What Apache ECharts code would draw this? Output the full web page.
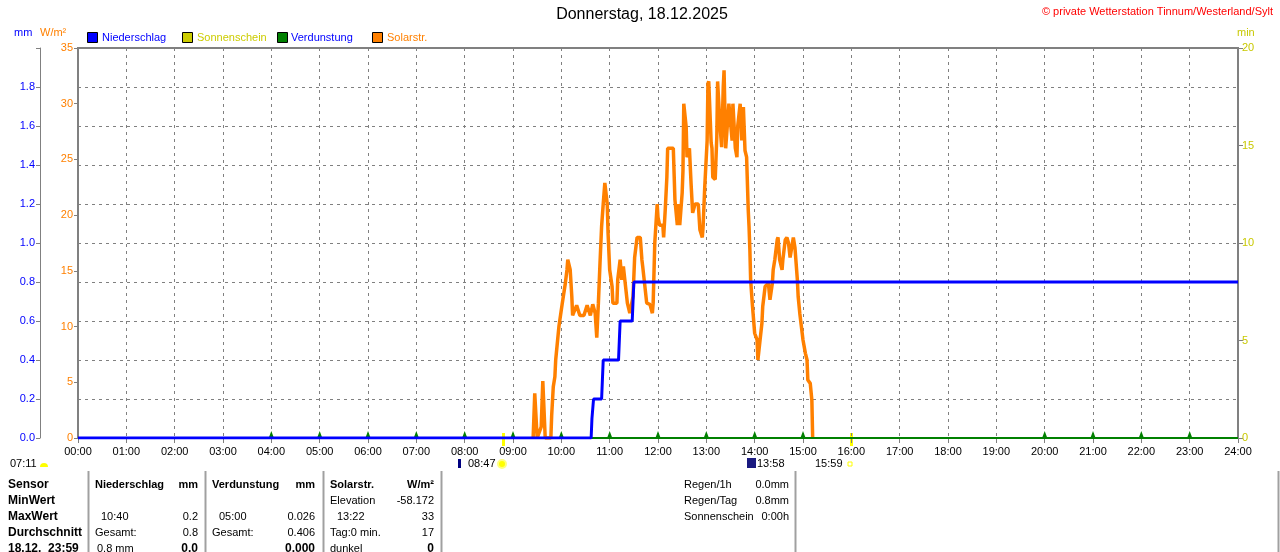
<!DOCTYPE html>
<html>
<head>
<meta charset="utf-8">
<script src="https://cdn.jsdelivr.net/npm/echarts@6/dist/echarts.min.js"></script>
<style>
  html, body { margin: 0; padding: 0; background: #fff; }
  #main { width: 1280px; height: 552px; }
</style>
</head>
<body>
<div id="main"></div>
<script>
// Solar radiation (W/m²), [minute of day, value]
const solarPoints = [
  [565, 0], [567, 4.0], [570, 0], [575, 1.0], [577, 5.1], [580, 0],
  [587, 0], [588, 2], [590, 4.6], [592, 5.5], [593, 7], [595, 8.5], [597, 10],
  [600, 11.5], [601, 12], [605, 13.9], [607, 15.1], [608, 16], [611, 15.1],
  [613, 12.7], [614, 11], [619, 11.9], [623, 11], [628, 11], [632, 11.9],
  [636, 11], [639, 12], [642, 11.2], [644, 9], [646, 12.1], [648, 15.7],
  [650, 19], [652, 21], [654, 22.9], [657, 21], [658, 18.4], [660, 15.1],
  [663, 13.6], [664, 12.1], [669, 12.1], [670, 14.2], [673, 16], [675, 14.2],
  [677, 15.4], [682, 12.1], [685, 11.2], [689, 12.7], [691, 16.2], [694, 18],
  [698, 18], [700, 16], [701, 15.4], [706, 12.1], [710, 12], [713, 11.2],
  [714, 12.1], [716, 17.5], [719, 21], [720, 19.8], [722, 19.1], [726, 19.1],
  [727, 18], [729, 20.5], [731, 23.4], [732, 26], [739, 26], [741, 21.4],
  [744, 19.1], [745, 21], [747, 19.1], [750, 22], [751, 24], [752, 30],
  [755, 27.9], [756, 25.2], [759, 26], [761, 22.9], [763, 20.2], [766, 21],
  [770, 21], [772, 18.7], [775, 18], [776, 19], [778, 22.5], [781, 26.7],
  [782, 31.8], [783, 32], [786, 26.5], [787, 26], [788, 23.4], [791, 23.2],
  [793, 27], [794, 32], [797, 28], [799, 26.1], [801, 31.5], [802, 33],
  [804, 26], [806, 28], [808, 30], [812, 26.7], [813, 30], [816, 26],
  [818, 25.2], [819, 28], [822, 30], [824, 26.7], [826, 29.7], [828, 25.8],
  [830, 25.2], [832, 20.5], [833, 19], [834, 17], [835, 14.2], [837, 12.1],
  [838, 11.2], [840, 9.4], [843, 8.8], [844, 7], [847, 9], [849, 10.3],
  [850, 11.8], [853, 13.6], [857, 13.9], [859, 12.4], [862, 13.9], [863, 15.1],
  [865, 16], [868, 17.8], [869, 18], [871, 16], [874, 15.1], [875, 16],
  [878, 17.8], [880, 18], [882, 17.5], [884, 16.2], [886, 17.1], [888, 18],
  [890, 17.1], [893, 14.2], [894, 12.7], [896, 11.2], [899, 9.4], [900, 8.8],
  [903, 7.6], [905, 7], [906, 5.2], [909, 4.9], [911, 3.4], [912, 0]
];

// Precipitation sum (mm), [minute of day, value]
const rainPoints = [
  [0, 0], [637, 0], [638, 0.1], [640, 0.2], [650, 0.2], [651, 0.3], [652, 0.4],
  [671, 0.4], [672, 0.5], [673, 0.6], [688, 0.6], [689, 0.7], [690, 0.8], [1440, 0.8]
];

// Sunshine minutes
const sunPoints = [[0, 0], [1440, 0]];

// Evaporation markers (hours that carry a value)
const evapHours = [4, 5, 6, 7, 8, 9, 10, 11, 12, 13, 14, 15, 20, 21, 22, 23];

// Sunrise / sunset marks (minute of day)
const sunMarks = [527, 959];

// Table texts
const tableRows = ["Sensor", "MinWert", "MaxWert", "Durchschnitt", "18.12.  23:59"];
const rightInfo = [["Regen/1h", "0.0mm"], ["Regen/Tag", "0.8mm"], ["Sonnenschein", "0:00h"]];

const FONT = "Liberation Sans, Arial, sans-serif";
const GRAY = "#808080";
const YEL = "#c8c800";

const pad = (n) => String(n).padStart(2, "0");

const evapData = [];
for (let h = 0; h <= 24; h++) {
  evapData.push({
    value: [h * 60, 0],
    symbol: evapHours.includes(h) ? "triangle" : "none",
  });
}

function txt(x, y, text, opts = {}) {
  return {
    type: "text",
    x: x,
    y: y,
    silent: true,
    style: {
      text: text,
      fill: opts.color || "#000",
      font: (opts.bold ? "bold " : "") + (opts.size || 11) + "px " + FONT,
      textAlign: opts.align || "left",
      textVerticalAlign: "middle",
    },
  };
}

function vline(x, y1, y2, color, w) {
  return {
    type: "line",
    silent: true,
    shape: { x1: x, y1: y1, x2: x, y2: y2 },
    style: { stroke: color, lineWidth: w || 1 },
  };
}

function square(x, color) {
  return {
    type: "rect",
    silent: true,
    shape: { x: x + 0.5, y: 32.5, width: 10, height: 10 },
    style: { fill: color, stroke: "#000", lineWidth: 1 },
  };
}

const graphics = [
  txt(642, 15, "Donnerstag, 18.12.2025", { size: 16, align: "center" }),
  txt(1273, 12, "© private Wetterstation Tinnum/Westerland/Sylt", { color: "#ff0000", align: "right" }),
  txt(14, 33, "mm", { color: "#0000ff" }),
  txt(40, 33, "W/m²", { color: "#ff8000" }),
  txt(1237, 33, "min", { color: YEL }),
  square(87, "#0000ff"), txt(102, 38, "Niederschlag", { color: "#0000ff" }),
  square(182, "#cccc00"), txt(197, 38, "Sonnenschein", { color: "#cccc00" }),
  square(277, "#008000"), txt(291, 38, "Verdunstung", { color: "#0000ff" }),
  square(372, "#ff8000"), txt(387, 38, "Solarstr.", { color: "#ff8000" }),

  // sun row below the axis
  txt(10, 464, "07:11"),
  { type: "sector", silent: true, shape: { cx: 44, cy: 467, r0: 0, r: 4, startAngle: Math.PI, endAngle: 2 * Math.PI }, style: { fill: "#ffff00" } },
  { type: "rect", silent: true, shape: { x: 458, y: 459, width: 3, height: 9 }, style: { fill: "#000080" } },
  txt(468, 464, "08:47"),
  { type: "circle", silent: true, shape: { cx: 502, cy: 464, r: 4 }, style: { fill: "#ffff00", stroke: "#ffff80", lineWidth: 2 } },
  { type: "rect", silent: true, shape: { x: 747, y: 458, width: 9, height: 10 }, style: { fill: "#1a1a80" } },
  txt(757, 464, "13:58"),
  txt(815, 464, "15:59"),
  { type: "rect", silent: true, shape: { x: 848, y: 462, width: 4, height: 4 }, style: { fill: "none", stroke: "#ffff00", lineWidth: 1 } },

  // table separators
  vline(88.5, 471, 552, "#a0a0a0", 2),
  vline(205.5, 471, 552, "#a0a0a0", 2),
  vline(323.5, 471, 552, "#a0a0a0", 2),
  vline(441.5, 471, 552, "#a0a0a0", 2),
  vline(795.5, 471, 552, "#a0a0a0", 2),
  vline(1278.5, 471, 552, "#a0a0a0", 2),

  // Niederschlag column
  txt(95, 485, "Niederschlag", { bold: true }), txt(198, 485, "mm", { bold: true, align: "right" }),
  txt(101, 517, "10:40"), txt(198, 517, "0.2", { align: "right" }),
  txt(95, 533, "Gesamt:"), txt(198, 533, "0.8", { align: "right" }),
  txt(97, 549, "0.8 mm"), txt(198, 549, "0.0", { bold: true, align: "right", size: 12 }),

  // Verdunstung column
  txt(212, 485, "Verdunstung", { bold: true }), txt(315, 485, "mm", { bold: true, align: "right" }),
  txt(219, 517, "05:00"), txt(315, 517, "0.026", { align: "right" }),
  txt(212, 533, "Gesamt:"), txt(315, 533, "0.406", { align: "right" }),
  txt(315, 549, "0.000", { bold: true, align: "right", size: 12 }),

  // Solarstr. column
  txt(330, 485, "Solarstr.", { bold: true }), txt(434, 485, "W/m²", { bold: true, align: "right" }),
  txt(330, 501, "Elevation"), txt(434, 501, "-58.172", { align: "right" }),
  txt(337, 517, "13:22"), txt(434, 517, "33", { align: "right" }),
  txt(330, 533, "Tag:0 min."), txt(434, 533, "17", { align: "right" }),
  txt(330, 549, "dunkel"), txt(434, 549, "0", { bold: true, align: "right", size: 12 }),
];

tableRows.forEach((r, i) => {
  graphics.push(txt(8, 485 + i * 16, r, { bold: true, size: 12 }));
});
rightInfo.forEach((r, i) => {
  graphics.push(txt(684, 485 + i * 16, r[0]));
  graphics.push(txt(789, 485 + i * 16, r[1], { align: "right" }));
});

const chartConfig = {
  animation: false,
  textStyle: { fontFamily: FONT },
  grid: {
    left: 78, right: 42, top: 48, bottom: 114,
    show: true, borderColor: GRAY, borderWidth: 2,
  },
  xAxis: {
    type: "value",
    min: 0, max: 1440, interval: 60,
    axisLine: { onZero: false, lineStyle: { color: GRAY, width: 1 } },
    axisTick: { length: 5, lineStyle: { color: GRAY } },
    axisLabel: {
      color: "#000", fontSize: 11, margin: 8,
      formatter: (v) => pad(v / 60) + ":00",
    },
    splitLine: { show: true, lineStyle: { color: GRAY, type: [3, 4], width: 1 } },
  },
  yAxis: [
    {
      // W/m²
      type: "value", min: 0, max: 35, interval: 5, position: "left",
      axisLine: { show: true, lineStyle: { color: GRAY, width: 2 } },
      axisTick: { show: true, length: 4, lineStyle: { color: GRAY } },
      axisLabel: { color: "#ff8000", fontSize: 11, margin: 5 },
      splitLine: { show: false },
    },
    {
      // mm
      type: "value", min: 0, max: 2.0, interval: 0.2, position: "left", offset: 38,
      axisLine: { show: true, lineStyle: { color: GRAY, width: 1 } },
      axisTick: { show: true, length: 4, lineStyle: { color: GRAY } },
      axisLabel: {
        color: "#0000ff", fontSize: 11, margin: 5,
        formatter: (v) => (v >= 1.99 ? "" : v.toFixed(1)),
      },
      splitLine: { show: true, lineStyle: { color: GRAY, type: [3, 4], width: 1 } },
    },
    {
      // min
      type: "value", min: 0, max: 20, interval: 5, position: "right",
      axisLine: { show: true, lineStyle: { color: GRAY, width: 2 } },
      axisTick: { show: true, length: 5, lineStyle: { color: GRAY } },
      axisLabel: { color: YEL, fontSize: 11, margin: 4 },
      splitLine: { show: false },
    },
  ],
  series: [
    {
      name: "Solarstr.",
      type: "line",
      yAxisIndex: 0,
      data: solarPoints,
      showSymbol: false,
      lineStyle: { color: "#ff8000", width: 3.5 },
      z: 2,
    },
    {
      name: "Sonnenschein",
      type: "line",
      yAxisIndex: 2,
      data: sunPoints,
      showSymbol: false,
      lineStyle: { color: "#cccc00", width: 1 },
      z: 3,
    },
    {
      name: "Verdunstung",
      type: "line",
      yAxisIndex: 1,
      data: evapData,
      symbolSize: [6, 8],
      symbolOffset: [0, -3],
      itemStyle: { color: "#008000" },
      lineStyle: { color: "#008000", width: 2 },
      z: 4,
    },
    {
      name: "Niederschlag",
      type: "line",
      yAxisIndex: 1,
      data: rainPoints,
      showSymbol: false,
      lineStyle: { color: "#0000ff", width: 3 },
      z: 5,
    },
  ],
  graphic: graphics,
};

const chartContainer = document.getElementById("main");
const chart = echarts.init(chartContainer);
chart.setOption(chartConfig);

// yellow sunrise / sunset ticks on the time axis
const sunTicks = sunMarks.map((m) => {
  const px = chart.convertToPixel({ xAxisIndex: 0 }, m);
  return vline(Math.round(px) + 0.5, 433, 446, "#ffff00", 3);
});
chart.setOption({ graphic: graphics.concat(sunTicks) });
</script>
</body>
</html>
